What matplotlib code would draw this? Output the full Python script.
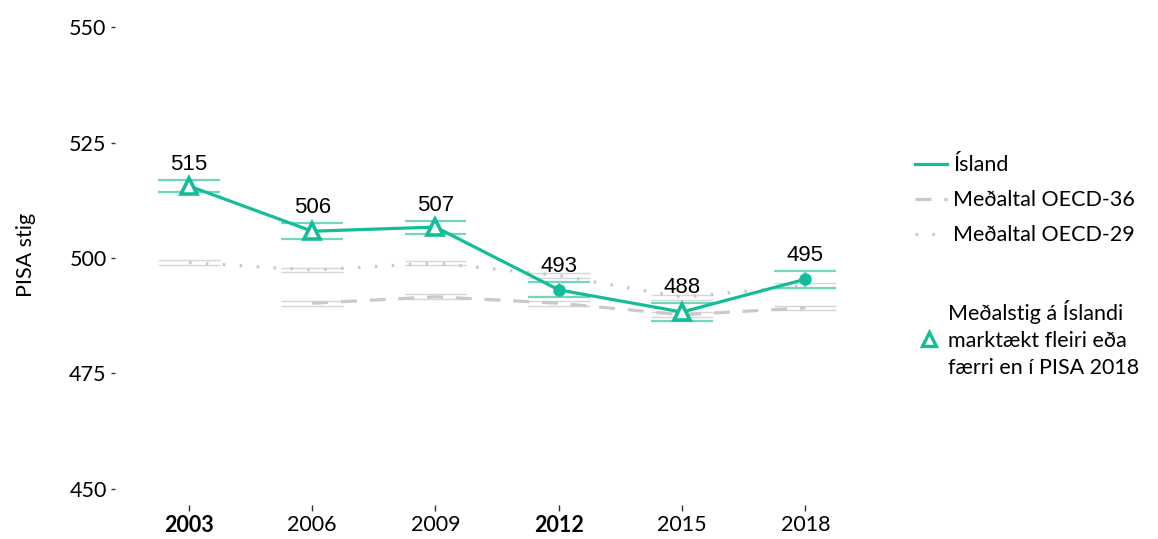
import numpy as np
import matplotlib
matplotlib.use('Agg')
import matplotlib.pyplot as plt
from matplotlib.lines import Line2D

# PISA stærðfræði - Ísland og meðaltöl OECD
years = ['2003', '2006', '2009', '2012', '2015', '2018']
bold_years = ['2003', '2012']
island = [515.6, 505.8, 506.7, 493.1, 488.3, 495.4]
island_se = [1.3, 1.7, 1.4, 1.6, 1.9, 1.8]
island_labels = ['515', '506', '507', '493', '488', '495']
signif = [True, True, True, False, True, False]
oecd36 = [np.nan, 490.2, 491.6, 490.2, 487.7, 489.2]
oecd36_se = [np.nan, 0.5, 0.5, 0.5, 0.5, 0.5]
oecd29 = [499.0, 497.4, 498.9, 496.2, 491.5, 494.0]
oecd29_se = [0.6, 0.5, 0.5, 0.5, 0.5, 0.5]

teal = '#14BC9A'
teal_light = '#6FD6BF'
grey = '#C9C9C9'
grey_bar = '#D6D6D6'
font = 'Lato'

fig = plt.figure(figsize=(11.58, 5.39), dpi=100)
ax = fig.add_axes([0.0993, 0.063, 0.66, 0.9295])

x = np.arange(len(years))
hw = 0.25

# grey error bars for OECD averages
for vals, se in [(oecd36, oecd36_se), (oecd29, oecd29_se)]:
    for i in range(len(years)):
        if np.isnan(vals[i]):
            continue
        ax.hlines([vals[i] - se[i], vals[i] + se[i]], x[i] - hw, x[i] + hw,
                  color=grey_bar, lw=1.0, zorder=1)

ax.plot(x, oecd36, color=grey, lw=2.3, dashes=(5, 4), zorder=2)
ax.plot(x, oecd29, color=grey, lw=2.3, dashes=(0.8, 4.5), zorder=2)

# Iceland error bars
for i in range(len(years)):
    ax.hlines([island[i] - island_se[i], island[i] + island_se[i]], x[i] - hw, x[i] + hw,
              color=teal_light, lw=1.6, zorder=3)
    ax.vlines(x[i], island[i] - island_se[i], island[i] + island_se[i],
              color=teal_light, lw=1.6, zorder=3)

ax.plot(x, island, color=teal, lw=2.3, zorder=4)
for i in range(len(years)):
    if signif[i]:
        ax.plot(x[i], island[i], marker='^', ms=12, mfc='white', mec=teal, mew=2.6, zorder=5)
    else:
        ax.plot(x[i], island[i], marker='o', ms=8, color=teal, zorder=5)
    ax.text(x[i], island[i] + island_se[i] + 1.1, island_labels[i], ha='center', va='bottom',
            fontsize=16, family='Liberation Sans', color='black', zorder=6)

ax.set_xlim(-0.6, len(years) - 0.4)
ax.set_ylim(446.5, 555)
ax.set_yticks([450, 475, 500, 525, 550])
ax.set_xticks(x)
ax.set_xticklabels(years)
for lab in ax.get_xticklabels():
    lab.set_family(font)
    lab.set_fontsize(15.5)
    if lab.get_text() in bold_years:
        lab.set_fontweight(700)
for lab in ax.get_yticklabels():
    lab.set_family(font)
    lab.set_fontsize(15.5)
ax.tick_params(axis='y', length=3, width=1, color='#333333', pad=3)
ax.tick_params(axis='x', length=4, width=1, color='#333333', pad=3)
for s in ax.spines.values():
    s.set_visible(False)
ax.set_ylabel('PISA stig', fontsize=15.5, family=font, labelpad=24)

# legends
h1 = [Line2D([], [], color=teal, lw=2.3),
      Line2D([], [], color=grey, lw=2.3, dashes=(5, 4)),
      Line2D([], [], color=grey, lw=2.3, dashes=(0.8, 4.5))]
leg1 = fig.legend(h1, ['Ísland', 'Meðaltal OECD-36', 'Meðaltal OECD-29'],
                  loc='upper left', bbox_to_anchor=(0.783, 0.728), frameon=False,
                  prop={'family': font, 'size': 15.5}, handlelength=1.45, handletextpad=0.3,
                  labelspacing=0.7, borderaxespad=0)
h2 = [Line2D([], [], ls='none', marker='^', ms=10, mfc='white', mec=teal, mew=2.4)]
leg2 = fig.legend(h2, ['Meðalstig á Íslandi\nmarktækt fleiri eða\nfærri en í PISA 2018'],
                  loc='upper left', bbox_to_anchor=(0.787, 0.46), frameon=False,
                  prop={'family': font, 'size': 15.5}, handlelength=0.8, handletextpad=0.5,
                  borderaxespad=0)
for t in leg2.get_texts():
    t.set_linespacing(1.45)

fig.savefig('out.png', dpi=100)
